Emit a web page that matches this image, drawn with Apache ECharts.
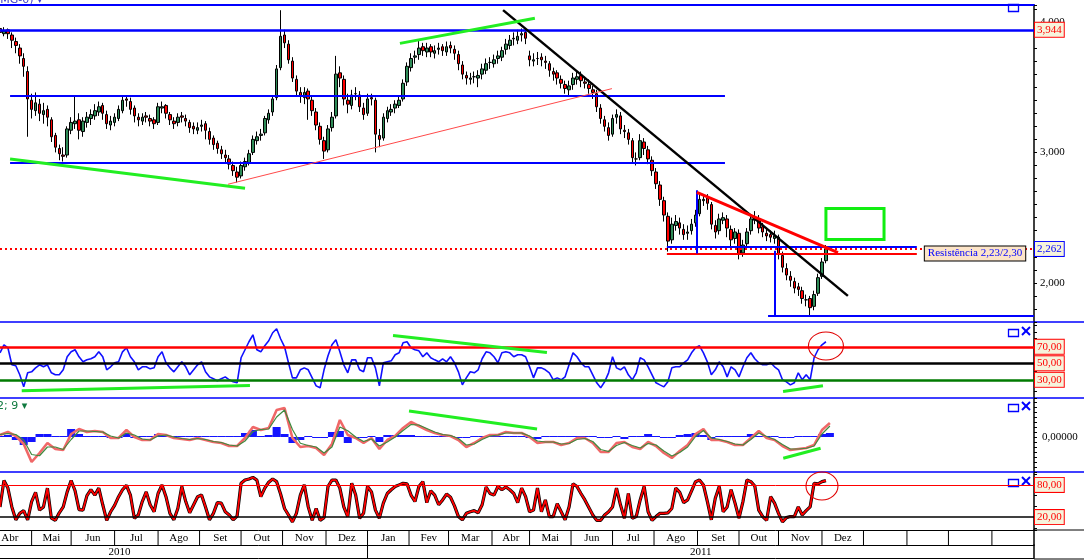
<!DOCTYPE html>
<html><head><meta charset="utf-8">
<script src="https://cdn.jsdelivr.net/npm/echarts@6/dist/echarts.min.js"></script>
<style>html,body{margin:0;padding:0;background:#fff}#c{width:1084px;height:560px}</style>
</head><body><div id="c"></div>
<script>
// ---------- DATA ----------
const candleStep = 2;   // trading days per candle
const macdStep = 4;     // trading days per MACD sample
const xMax = 523.3;

const opens = [3.95,3.91,3.94,3.90,3.85,3.80,3.72,3.62,3.40,3.32,
3.37,3.29,3.33,3.25,3.13,3.03,2.98,2.98,3.17,3.22,
3.25,3.16,3.23,3.26,3.28,3.31,3.36,3.29,3.21,3.23,
3.26,3.32,3.41,3.39,3.34,3.27,3.24,3.28,3.26,3.25,
3.23,3.34,3.36,3.29,3.24,3.23,3.28,3.26,3.23,3.20,
3.17,3.20,3.22,3.16,3.11,3.07,3.02,2.98,2.95,2.90,
2.85,2.82,2.89,2.92,3.00,3.09,3.13,3.15,3.25,3.31,
3.42,3.65,3.90,3.83,3.70,3.56,3.46,3.42,3.47,3.40,
3.31,3.20,3.09,3.02,3.19,3.28,3.61,3.56,3.40,3.36,
3.45,3.44,3.34,3.30,3.42,3.40,3.13,3.11,3.26,3.31,
3.34,3.36,3.41,3.54,3.65,3.73,3.75,3.81,3.77,3.81,
3.76,3.79,3.81,3.77,3.82,3.79,3.75,3.67,3.59,3.56,
3.58,3.57,3.60,3.63,3.69,3.68,3.72,3.73,3.79,3.82,
3.87,3.86,3.90,3.92,3.74,3.70,3.72,3.73,3.70,3.68,
3.62,3.61,3.56,3.52,3.48,3.52,3.56,3.59,3.54,3.52,
3.48,3.45,3.34,3.25,3.19,3.14,3.27,3.28,3.17,3.15,
3.09,2.95,2.96,3.08,3.02,2.94,2.85,2.75,2.63,2.51,
2.33,2.44,2.46,2.41,2.38,2.40,2.46,2.53,2.63,2.65,
2.60,2.44,2.40,2.48,2.49,2.41,2.34,2.38,2.23,2.30,
2.40,2.48,2.49,2.43,2.38,2.37,2.34,2.35,2.21,2.11,
2.05,2.01,1.97,1.94,1.87,1.88,1.82,1.92,2.05,2.17];
const closes = [3.92,3.93,3.91,3.86,3.82,3.74,3.66,3.41,3.33,3.38,
3.30,3.32,3.27,3.12,3.04,2.99,2.97,3.18,3.23,3.24,
3.17,3.24,3.27,3.29,3.32,3.35,3.30,3.22,3.24,3.27,
3.33,3.40,3.40,3.33,3.28,3.25,3.27,3.27,3.24,3.22,
3.35,3.35,3.30,3.25,3.22,3.27,3.27,3.24,3.19,3.18,
3.19,3.21,3.17,3.10,3.06,3.03,2.99,2.96,2.91,2.86,
2.81,2.90,2.93,2.99,3.10,3.12,3.14,3.26,3.30,3.41,
3.64,3.89,3.84,3.71,3.57,3.47,3.43,3.46,3.41,3.32,
3.21,3.10,3.01,3.18,3.27,3.60,3.57,3.41,3.37,3.44,
3.45,3.35,3.29,3.41,3.41,3.14,3.10,3.27,3.32,3.33,
3.37,3.40,3.53,3.66,3.72,3.74,3.80,3.78,3.80,3.77,
3.78,3.80,3.78,3.81,3.80,3.76,3.68,3.60,3.57,3.57,
3.58,3.59,3.64,3.68,3.69,3.71,3.74,3.78,3.83,3.86,
3.875,3.89,3.91,3.875,3.71,3.71,3.72,3.71,3.69,3.63,
3.60,3.57,3.53,3.49,3.51,3.57,3.58,3.55,3.53,3.49,
3.46,3.35,3.26,3.20,3.13,3.26,3.29,3.18,3.16,3.10,
2.96,2.95,3.09,3.03,2.95,2.86,2.76,2.64,2.52,2.32,
2.45,2.47,2.42,2.37,2.39,2.45,2.52,2.64,2.64,2.61,
2.45,2.39,2.49,2.50,2.42,2.33,2.39,2.22,2.29,2.39,
2.49,2.50,2.42,2.39,2.36,2.35,2.36,2.22,2.12,2.06,
2.02,1.96,1.95,1.88,1.87,1.81,1.91,2.04,2.16,2.262];
const lows = [3.88,3.89,3.87,3.80,3.76,3.68,3.58,3.12,3.26,3.28,
3.24,3.22,3.20,3.08,3.00,2.94,2.93,2.96,3.14,3.18,
3.10,3.12,3.19,3.21,3.25,3.28,3.25,3.18,3.17,3.20,
3.24,3.30,3.35,3.29,3.23,3.20,3.21,3.23,3.20,3.18,
3.21,3.30,3.26,3.21,3.18,3.20,3.23,3.20,3.15,3.14,
3.14,3.16,3.10,3.06,3.02,2.99,2.95,2.92,2.87,2.82,
2.77,2.80,2.86,2.90,2.98,3.06,3.09,3.13,3.22,3.28,
3.40,3.63,3.80,3.68,3.54,3.43,3.38,3.37,3.25,3.28,
3.17,3.06,2.95,3.00,3.16,3.26,3.50,3.36,3.30,3.33,
3.40,3.31,3.25,3.28,3.36,3.00,3.04,3.09,3.23,3.28,
3.30,3.34,3.39,3.51,3.62,3.68,3.71,3.74,3.73,3.73,
3.72,3.75,3.74,3.74,3.76,3.71,3.63,3.56,3.52,3.52,
3.53,3.50,3.56,3.60,3.64,3.65,3.68,3.70,3.75,3.79,
3.82,3.83,3.85,3.83,3.66,3.66,3.67,3.66,3.64,3.58,
3.55,3.52,3.49,3.45,3.44,3.48,3.52,3.50,3.49,3.45,
3.41,3.31,3.22,3.16,3.09,3.12,3.22,3.14,3.11,3.06,
2.92,2.90,2.94,2.98,2.91,2.82,2.72,2.59,2.47,2.24,
2.30,2.40,2.37,2.33,2.33,2.37,2.43,2.51,2.59,2.56,
2.41,2.34,2.37,2.45,2.35,2.28,2.30,2.18,2.20,2.27,
2.37,2.45,2.38,2.35,2.32,2.31,2.30,2.18,2.08,2.02,
1.97,1.92,1.90,1.84,1.82,1.75,1.79,1.90,2.03,2.15];
const highs = [3.97,3.96,3.95,3.92,3.88,3.83,3.76,3.66,3.45,3.46,
3.41,3.38,3.36,3.27,3.15,3.06,3.04,3.20,3.27,3.44,
3.30,3.27,3.31,3.33,3.37,3.39,3.38,3.32,3.28,3.30,
3.36,3.44,3.44,3.42,3.36,3.30,3.30,3.31,3.29,3.27,
3.38,3.39,3.37,3.31,3.27,3.30,3.31,3.29,3.25,3.23,
3.23,3.25,3.24,3.19,3.13,3.09,3.05,3.02,2.98,2.93,
2.89,2.93,2.96,3.02,3.13,3.16,3.18,3.28,3.33,3.44,
3.67,4.09,3.94,3.86,3.73,3.59,3.50,3.50,3.49,3.43,
3.34,3.23,3.12,3.21,3.31,3.74,3.66,3.59,3.45,3.48,
3.50,3.47,3.38,3.45,3.45,3.42,3.18,3.30,3.35,3.37,
3.40,3.43,3.56,3.69,3.76,3.78,3.86,3.84,3.84,3.83,
3.82,3.84,3.83,3.85,3.85,3.82,3.78,3.70,3.62,3.61,
3.62,3.63,3.68,3.72,3.73,3.75,3.78,3.81,3.87,3.90,
3.92,3.94,3.95,3.95,3.78,3.76,3.77,3.76,3.74,3.70,
3.65,3.63,3.59,3.55,3.55,3.61,3.62,3.62,3.58,3.56,
3.51,3.48,3.37,3.28,3.23,3.29,3.33,3.31,3.21,3.18,
3.11,3.00,3.14,3.11,3.05,2.97,2.88,2.78,2.66,2.54,
2.50,2.52,2.50,2.45,2.44,2.49,2.56,2.69,2.68,2.68,
2.62,2.48,2.53,2.54,2.52,2.44,2.42,2.41,2.33,2.42,
2.52,2.55,2.52,2.46,2.42,2.40,2.40,2.37,2.24,2.15,
2.09,2.04,2.00,1.97,1.91,1.90,1.94,2.07,2.19,2.29];

const rsi = [62.7,72.4,68.8,48.2,47.0,36.1,21.5,38.5,39.7,44.5,
48.2,45.8,48.2,38.5,36.1,36.1,42.1,57.9,63.9,66.4,
57.9,51.8,54.2,55.5,57.9,63.9,57.9,42.1,45.8,50.6,
51.8,63.9,68.8,57.9,51.8,42.1,45.8,45.8,43.3,44.5,
57.9,63.9,50.6,44.5,39.7,45.8,51.8,45.8,36.1,42.1,
48.2,51.8,39.7,33.6,31.2,28.8,31.2,33.6,30.0,27.6,
26.4,56.7,66.4,76.1,84.5,66.4,63.9,71.2,77.3,87.0,
91.8,79.7,70.0,50.6,32.4,32.4,42.1,44.5,42.1,32.4,
22.7,20.3,42.1,59.1,72.4,78.5,63.9,48.2,38.5,54.2,
54.2,42.1,39.7,56.7,56.7,44.5,22.7,50.6,51.8,53.0,
60.3,62.7,74.8,76.1,68.8,66.4,65.1,57.9,62.7,56.7,
54.2,51.8,55.5,51.8,57.9,50.6,39.7,23.9,32.4,39.7,
38.5,42.1,55.5,63.9,62.7,57.9,50.6,62.7,63.9,62.7,
57.9,60.3,60.3,57.9,45.8,32.4,44.5,44.5,42.1,38.5,
30.0,32.4,30.0,33.6,48.2,62.7,57.9,50.6,45.8,45.8,
36.1,26.4,20.3,27.6,38.5,57.9,44.5,42.1,45.8,36.1,
30.0,38.5,56.7,54.2,45.8,36.1,26.4,23.9,21.5,27.6,
44.5,45.8,45.8,50.6,54.2,62.7,68.8,71.2,62.7,51.8,
36.1,42.1,51.8,45.8,33.6,45.8,42.1,33.6,45.8,56.7,
62.7,55.5,50.6,48.2,48.2,50.6,45.8,42.1,30.0,27.6,
23.9,26.4,38.5,30.0,36.1,30.0,56.7,66.4,72.4,76.1];

const stoch = [39,88,74,39,15,27,32,15,49,66,
33,39,74,18,14,28,39,67,88,69,
34,33,60,71,61,74,43,14,30,42,
58,71,79,61,18,24,49,67,43,30,
64,80,58,27,15,36,77,49,28,43,
58,61,39,15,27,47,46,30,24,15,
22,83,89,91,94,89,58,74,85,91,
86,63,36,24,11,27,61,80,39,14,
36,14,19,77,89,89,74,39,21,83,
61,18,27,77,67,33,18,46,64,71,
77,80,83,82,61,49,77,86,47,69,
61,43,52,63,57,41,21,15,27,30,
32,28,43,76,64,61,77,71,76,71,
64,47,74,58,30,33,74,30,52,21,
21,45,30,15,39,82,77,64,52,38,
24,14,14,24,30,39,74,43,18,64,
18,21,52,77,30,14,21,27,27,28,
36,74,66,47,52,69,86,89,80,49,
15,55,77,30,39,71,46,18,49,89,
86,78,33,21,14,58,46,27,11,19,
21,21,39,24,32,39,83,82,86,88];

const macd = [0.008,0.02,0.004,-0.028,-0.1,-0.064,-0.024,-0.048,-0.052,0.012,
0.032,0.02,0.024,0.02,-0.004,-0.004,0.028,0,-0.012,-0.012,
0.012,0.008,-0.004,-0.008,-0.012,-0.004,-0.012,-0.02,-0.024,-0.036,
-0.036,-0.004,0.04,0.028,0.036,0.108,0.116,-0.004,-0.04,-0.036,
-0.044,-0.072,-0.028,0.068,0.008,-0.004,-0.024,-0.004,-0.048,-0.012,
0.004,0.036,0.06,0.044,0.028,0.016,0.008,0.004,-0.012,-0.04,
-0.024,-0.004,0.008,0.008,0.02,0.016,0.016,0,-0.024,-0.02,
-0.02,-0.032,-0.024,-0.004,-0.004,-0.024,-0.06,-0.06,-0.024,-0.02,
-0.04,-0.048,-0.02,-0.036,-0.064,-0.084,-0.056,-0.032,0.012,0.032,
-0.012,-0.012,-0.02,-0.032,-0.032,-0.004,0.024,-0.004,-0.012,-0.036,
-0.052,-0.048,-0.044,-0.032,0.028,0.056];
const signal = [0.01,0.014,0.01,-0.012,-0.07,-0.075,-0.04,-0.04,-0.05,-0.01,
0.024,0.024,0.022,0.02,0.004,-0.004,0.016,0.008,-0.008,-0.012,
0.004,0.008,0,-0.006,-0.01,-0.006,-0.01,-0.018,-0.022,-0.032,
-0.036,-0.016,0.022,0.03,0.032,0.08,0.108,0.03,-0.025,-0.034,
-0.04,-0.064,-0.04,0.04,0.025,0,-0.018,-0.008,-0.036,-0.02,
0,0.026,0.05,0.048,0.034,0.02,0.01,0.006,-0.006,-0.032,
-0.028,-0.01,0.004,0.008,0.016,0.016,0.016,0.004,-0.016,-0.02,
-0.02,-0.028,-0.026,-0.01,-0.006,-0.018,-0.05,-0.058,-0.034,-0.022,
-0.034,-0.044,-0.026,-0.032,-0.056,-0.076,-0.062,-0.04,0.002,0.026,
-0.004,-0.01,-0.018,-0.028,-0.032,-0.01,0.016,0.002,-0.01,-0.03,
-0.048,-0.048,-0.045,-0.036,0.012,0.044];
const histo = [0.004,0.008,-0.012,-0.032,-0.02,0.012,0.012,0.004,0.004,0.032,
0.012,0.004,0,0,-0.004,-0.004,0.016,-0.004,0,0,
0.012,0.004,0,0,0,0,0,0,0,0,
0,0.016,0.028,0.004,0.008,0.04,0.012,-0.024,-0.012,0,
-0.004,-0.004,0.02,0.024,-0.024,-0.004,-0.004,0.004,-0.02,0.008,
0.008,0.008,0.008,0,0,0,0,0,-0.004,-0.004,
0.004,0.004,0,0,0,0,0,-0.004,-0.008,0,
0,0,0.004,0.004,0.004,0,-0.004,-0.004,0.004,-0.008,
0,0,0.012,0,-0.004,-0.004,0.008,0.012,0.016,0.008,
-0.012,0,0,0,0,0.012,0.004,0,0,-0.004,
-0.004,0,0.004,0.004,0.012,0.016];

// axis table (trading-day positions of month / year starts)
const monthBounds = [-6,16,36,58,80,101,122,143,165,186,207,227,249,268,289,310,331,353,374,394,416,437,459,480,502,523.3];
const monthLabels = ['Abr','Mai','Jun','Jul','Ago','Set','Out','Nov','Dez','Jan','Fev','Mar','Abr','Mai','Jun','Jul','Ago','Set','Out','Nov','Dez','','','',''];
const yearBounds = [-65,186,523.3];
const yearLabels = ['2010','2011'];

// drawn annotations (trading day, value)
const lastPrice = 2.262;
const topLevel = 3.944;
const hSegments = [[5.1,366.9,3.4375],[5.1,366.9,2.924],[337.5,464,2.28],[388.7,523.3,1.745]];
const resistSeg = [337.5,464,2.225];
const vSegments = [[352.7,2.71,2.225],[392.2,2.247,1.745]];
const trendBlack = [254.6,4.091,429.1,1.90];
const trendGreen = [[202.4,3.836,270.7,4.029],[5.1,2.949,124,2.725]];
const trendRedThin = [115.4,2.756,309.7,3.489];
const trendRedThick = [352.7,2.694,424.1,2.231];
const targetBox = [418,2.571,447.4,2.332];
const rsiLevels = [70,50,30];
const rsiGreen = [[11,16.7,126.5,23.1],[198.9,83.7,276.8,63.1],[396.3,15.8,416.5,22.7]];
const rsiCircle = [418,71];
const macdGreen = [[207,0.104,271.8,0.032],[396.4,-0.085,415.3,-0.045]];
const stochLevels = [80,20];
const stochCircle = [416,78];

// ---------- CHART ----------
const serif = 'Liberation Serif';
const blue = '#0000ff';
const fmt = (v, d) => v.toFixed(d).replace('.', ',');
const boxLabel = (text, color, border, bg) => ({show:true, position:'end', distance:1, formatter:text, color:color,
  fontFamily:serif, fontSize:11, backgroundColor:bg, borderColor:border, borderWidth:1, padding:[2,2,1,2]});
const seg = (x1,y1,x2,y2,style,label) => [{coord:[x1,y1], lineStyle:style, label: label || {show:false}}, {coord:[x2,y2]}];

const chart = echarts.init(document.getElementById('c'), null, {renderer:'canvas'});

const gridsDef = [[5,317],[322,76],[398,74],[472,58],[530,15],[545,13]];
const grid = gridsDef.map(g => ({left:0, right:50, top:g[0], height:g[1]}));

const xAxis = gridsDef.map((g,i) => ({gridIndex:i, type:'value', min:0, max:xMax, position:'top',
  axisLine:{show:true, onZero:false, lineStyle:{color: i<4 ? blue : '#000', width: i===0 ? 2 : (i<4 ? 1.5 : 1)}},
  axisTick:{show:false}, axisLabel:{show:false}, splitLine:{show:false}}));
xAxis.push({gridIndex:5, type:'value', min:0, max:xMax, position:'bottom',
  axisLine:{show:true, onZero:false, lineStyle:{color:'#000', width:1}}, axisTick:{show:false}, axisLabel:{show:false}, splitLine:{show:false}});

const yBase = {type:'value', position:'right', splitLine:{show:false},
  axisLine:{show:true, onZero:false, lineStyle:{color:'#000', width:1.5}},
  axisTick:{show:true, length:3, lineStyle:{color:'#000'}},
  axisLabel:{show:false}};
const yAxis = [
  Object.assign({}, yBase, {gridIndex:0, min:1.7, max:4.13, interval:0.1,
    axisLabel:{show:true, margin:6, color:'#000', fontFamily:serif, fontSize:11,
      formatter: v => Math.abs(v - Math.round(v)) < 1e-6 ? fmt(Math.round(v),3) : ''}}),
  Object.assign({}, yBase, {gridIndex:1, min:8, max:100, interval:8}),
  Object.assign({}, yBase, {gridIndex:2, min:-0.14, max:0.156, interval:0.02,
    axisLabel:{show:true, margin:8, color:'#000', fontFamily:serif, fontSize:11,
      formatter: v => Math.abs(v) < 1e-9 ? '0,00000' : ''}}),
  Object.assign({}, yBase, {gridIndex:3, min:-4, max:104}),
  Object.assign({}, yBase, {gridIndex:4, min:0, max:1, axisTick:{show:false}}),
  Object.assign({}, yBase, {gridIndex:5, min:0, max:1, axisTick:{show:false}})
];

function boxSeries(gridIdx, bounds, labels) {
  return {type:'custom', xAxisIndex:gridIdx, yAxisIndex:gridIdx, silent:true, animation:false,
    data: labels.map((t,i) => [bounds[i], bounds[i+1]]),
    encode:{x:[0,1]},
    renderItem(params, api) {
      const cs = params.coordSys;
      const x0 = api.coord([api.value(0), 0.5])[0];
      const x1 = api.coord([api.value(1), 0.5])[0];
      const ch = [];
      if (x0 > cs.x + 1 && x0 < cs.x + cs.width - 1)
        ch.push({type:'line', shape:{x1:x0, y1:cs.y, x2:x0, y2:cs.y+cs.height}, style:{stroke:'#000', lineWidth:1}});
      const t = labels[params.dataIndex];
      if (t) ch.push({type:'text', x:(x0+x1)/2, y:cs.y+cs.height/2+1,
        style:{text:t, fill:'#000', font:'11px "Liberation Serif"', align:'center', verticalAlign:'middle'}});
      return {type:'group', children:ch};
    }};
}

const mainMarks = [
  {yAxis: topLevel, lineStyle:{color:blue, width:2.5, type:'solid'}, label: boxLabel(fmt(topLevel,3), '#ff0000', '#ff0000', '#f6f3dc')},
  {yAxis: lastPrice, lineStyle:{color:'#ff0000', width:2, type:[2,3]}, label: boxLabel(fmt(lastPrice,3), blue, blue, '#f6f3dc')},
  ...hSegments.map(s => seg(s[0], s[2], s[1], s[2], {color:blue, width:2, type:'solid'})),
  seg(resistSeg[0], resistSeg[2], resistSeg[1], resistSeg[2], {color:'#ff0000', width:2, type:'solid'},
    {show:true, position:'end', distance:8, formatter:'Resistência 2,23/2,30', color:blue, fontFamily:serif, fontSize:11,
     backgroundColor:'#fce4c8', borderColor:'#000', borderWidth:1, padding:[2,3,1,3]}),
  ...vSegments.map(s => seg(s[0], s[1], s[0], s[2], {color:blue, width:2, type:'solid'})),
  seg(...trendBlack, {color:'#000', width:2.5, type:'solid'}),
  ...trendGreen.map(s => seg(...s, {color:'#22ee22', width:3, type:'solid'})),
  seg(...trendRedThin, {color:'#ff4a4a', width:1, type:'solid'}),
  seg(...trendRedThick, {color:'#ff0000', width:3, type:'solid'})
];

const series = [
  {type:'candlestick', xAxisIndex:0, yAxisIndex:0, barWidth:3,
    data: opens.map((o,i) => [i*candleStep, o, closes[i], lows[i], highs[i]]),
    encode:{x:0, y:[1,2,3,4]},
    itemStyle:{color:'#2e8b57', color0:'#ff0000', borderColor:'#000', borderColor0:'#000', borderWidth:1},
    markLine:{silent:true, symbol:['none','none'], animation:false, label:{show:false}, data: mainMarks},
    markArea:{silent:true, itemStyle:{color:'rgba(0,0,0,0)', borderColor:'#11ee11', borderWidth:3},
      data:[[{coord:[targetBox[0], targetBox[1]]}, {coord:[targetBox[2], targetBox[3]]}]]}
  },
  {type:'line', xAxisIndex:1, yAxisIndex:1, showSymbol:false, symbol:'none',
    data: rsi.map((v,i) => [i*candleStep, v]), lineStyle:{color:'#1010ff', width:1.6},
    markLine:{silent:true, symbol:['none','none'], animation:false, label:{show:false},
      data:[
        ...rsiLevels.map((l,k) => ({yAxis:l, lineStyle:{color:['#ff0000','#000000','#007a00'][k], width:2.5, type:'solid'},
          label: boxLabel(fmt(l,2), '#ff0000', '#ff0000', '#f6f3dc')})),
        ...rsiGreen.map(s => seg(...s, {color:'#22ee22', width:3, type:'solid'}))
      ]},
    markPoint:{silent:true, symbol:'circle', symbolSize:[35,28], label:{show:false},
      itemStyle:{color:'rgba(0,0,0,0)', borderColor:'#e00000', borderWidth:1}, data:[{coord:rsiCircle}]}
  },
  {type:'bar', xAxisIndex:2, yAxisIndex:2, barWidth:8, barMinHeight:1, itemStyle:{color:'#1414ff'},
    data: histo.map((v,j) => [j*macdStep, v])},
  {type:'line', xAxisIndex:2, yAxisIndex:2, showSymbol:false, symbol:'none',
    data: macd.map((v,j) => [j*macdStep, v]), lineStyle:{color:'#f06868', width:2.6},
    markLine:{silent:true, symbol:['none','none'], animation:false, label:{show:false},
      data: macdGreen.map(s => seg(...s, {color:'#22ee22', width:3, type:'solid'}))}},
  {type:'line', xAxisIndex:2, yAxisIndex:2, showSymbol:false, symbol:'none',
    data: signal.map((v,j) => [j*macdStep, v]), lineStyle:{color:'#3f8a3f', width:1.2}},
  {type:'line', xAxisIndex:3, yAxisIndex:3, showSymbol:false, symbol:'none',
    data: stoch.map((v,i) => [i*candleStep, v]), lineStyle:{color:'#000', width:3.2},
    markLine:{silent:true, symbol:['none','none'], animation:false, label:{show:false},
      data: stochLevels.map((l,k) => ({yAxis:l, lineStyle:{color: k===0 ? '#ff0000' : '#000', width: k===0 ? 1 : 1.5, type:'solid'},
        label: boxLabel(fmt(l,2), '#ff0000', '#ff0000', '#f6f3dc')}))}},
  {type:'line', xAxisIndex:3, yAxisIndex:3, showSymbol:false, symbol:'none',
    data: stoch.map((v,i) => [i*candleStep, v]), lineStyle:{color:'#ff0000', width:1.8},
    markPoint:{silent:true, symbol:'circle', symbolSize:[32,28], label:{show:false},
      itemStyle:{color:'rgba(0,0,0,0)', borderColor:'#e00000', borderWidth:1}, data:[{coord:stochCircle}]}},
  boxSeries(4, monthBounds, monthLabels),
  boxSeries(5, yearBounds, yearLabels)
];

// window-chrome icons and separator stubs to the right of the value axis
const iconRows = [[2,false],[327,true],[402,true],[477,true]];
const graphic = [];
iconRows.forEach(r => {
  graphic.push({type:'rect', left:1006, top:r[0], shape:{width:10, height:7}, style:{fill:'none', stroke:blue, lineWidth:1.3}, silent:true});
  if (r[1]) {
    graphic.push({type:'line', shape:{x1:1022, y1:r[0], x2:1030, y2:r[0]+8}, style:{stroke:blue, lineWidth:2}, silent:true});
    graphic.push({type:'line', shape:{x1:1030, y1:r[0], x2:1022, y2:r[0]+8}, style:{stroke:blue, lineWidth:2}, silent:true});
  }
});
[[322,blue],[398,blue],[472,blue],[530,'#000'],[559,'#000']].forEach(s => {
  graphic.push({type:'line', shape:{x1:1034, y1:s[0], x2:1084, y2:s[0]}, style:{stroke:s[1], lineWidth:s[1]===blue?1.5:1}, silent:true});
});

chart.setOption({
  backgroundColor:'#ffffff',
  animation:false,
  title:[
    {text:'(MG-0) ▾', left:-4, top:-5, padding:0, textStyle:{color:'#3a3acc', fontSize:11, fontWeight:'normal', fontFamily:'DejaVu Sans'}},
    {text:'2; 9 ▾', left:-3, top:401, padding:0, textStyle:{color:'#0f7a3f', fontSize:11, fontWeight:'normal', fontFamily:'DejaVu Sans'}}
  ],
  grid, xAxis, yAxis, series, graphic
});
</script></body></html>
